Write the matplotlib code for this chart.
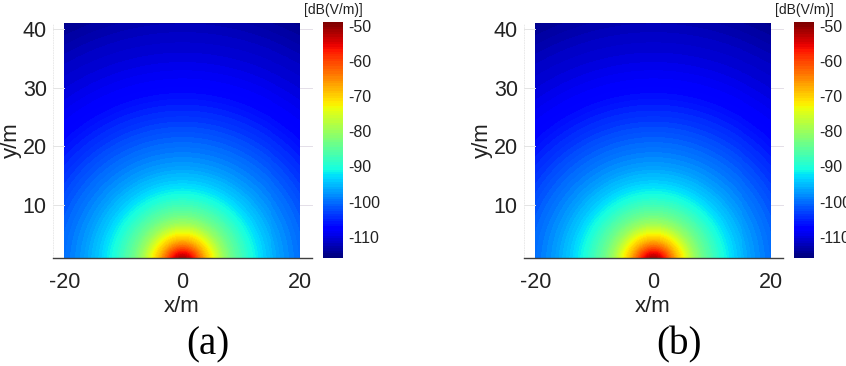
import numpy as np
import matplotlib
matplotlib.use("Agg")
import matplotlib.pyplot as plt
from matplotlib.colors import ListedColormap

# Radial field profile (distance from source, level)
radius_m = [0.0, 1.0, 1.6, 2.2, 2.8, 3.5, 4.3, 5.2, 6.0, 7.0, 8.5, 10.0, 11.5, 14.0, 17.0, 20.0, 25.0, 30.0, 35.0, 40.0, 46.0]
level_db = [-49.0, -51.0, -54.0, -57.0, -61.0, -65.0, -69.0, -72.5, -76.0, -80.0, -84.0, -87.0, -90.0, -94.0, -97.5, -100.0, -104.0, -107.5, -110.0, -112.0, -115.0]

x_ticks = [-20, 0, 20]
y_ticks = [10, 20, 30, 40]
cbar_ticks = [-50, -60, -70, -80, -90, -100, -110]
panel_labels = ["(a)", "(b)"]
x_span = (-20, 20)
y_span = (1, 41)
c_span = (-116, -49)

W, H = 846, 366
plt.rcParams["font.family"] = ["Liberation Sans", "DejaVu Sans"]
plt.rcParams["axes.unicode_minus"] = False
fig = plt.figure(figsize=(W / 100, H / 100), dpi=100)


def rect(x0, y0, x1, y1):
    return [x0 / W, 1 - y1 / H, (x1 - x0) / W, (y1 - y0) / H]


cmap = ListedColormap(plt.get_cmap("jet")(np.linspace(0, 1, 96)))
xs = np.linspace(*x_span, 237)
ys = np.linspace(*y_span, 236)
X, Y = np.meshgrid(xs, ys)
field = np.interp(np.hypot(X, Y), radius_m, level_db)

for offset, label in zip([0, 471], panel_labels):
    ax = fig.add_axes(rect(53 + offset, 22.5, 312 + offset, 258))
    ax.pcolormesh(X, Y, field, cmap=cmap, vmin=c_span[0], vmax=c_span[1],
                  shading="auto", rasterized=True)
    ax.set_xlim(-21.95, 22.05)
    ax.set_ylim(1, 41.1)
    ax.set_xticks(x_ticks)
    ax.set_yticks(y_ticks)
    for s in ("top", "right"):
        ax.spines[s].set_visible(False)
    ax.spines["left"].set_color("#e6e6e6")
    ax.spines["left"].set_linestyle((0, (1, 2)))
    ax.spines["left"].set_linewidth(0.6)
    ax.spines["bottom"].set_color("#404040")
    ax.spines["bottom"].set_linewidth(1.0)
    ax.tick_params(axis="x", length=0, pad=10, labelsize=15.5, labelcolor="#222222")
    ax.tick_params(axis="y", length=0, pad=4.5, labelsize=15.5, labelcolor="#222222")
    for yt in y_ticks:
        ax.plot([-21.95, -20], [yt, yt], color="#e4e4e4", lw=0.7, clip_on=False)
        ax.plot([20, 22.05], [yt, yt], color="#e4dfe8", lw=0.7, clip_on=False)
    fig.text((182 + offset) / W, 1 - 306 / H, "x/m", ha="center", va="center",
             fontsize=16, color="#222222")
    fig.text((11 + offset) / W, 1 - 140 / H, "y/m", rotation=90, ha="center",
             va="center", fontsize=16, color="#222222")
    fig.text((208 + offset) / W, 1 - 345 / H, label, ha="center", va="center",
             fontsize=28, family="Liberation Serif", color="black")

    cax = fig.add_axes(rect(323 + offset, 22, 343 + offset, 258))
    grad = np.linspace(c_span[0], c_span[1], 96).reshape(-1, 1)
    cax.imshow(grad, aspect="auto", origin="lower", cmap=cmap,
               vmin=c_span[0], vmax=c_span[1],
               extent=[0, 1, c_span[0], c_span[1]], interpolation="nearest")
    cax.set_xticks([])
    cax.yaxis.tick_right()
    cax.set_yticks(cbar_ticks)
    cax.tick_params(axis="y", length=0, pad=3.5, labelsize=11.5, labelcolor="#222222")
    for s in cax.spines.values():
        s.set_visible(False)
    fig.text((333 + offset) / W, 1 - 10 / H, "[dB(V/m)]", ha="center", va="center",
             fontsize=10, color="#222222")

fig.savefig("out.png", dpi=100)
